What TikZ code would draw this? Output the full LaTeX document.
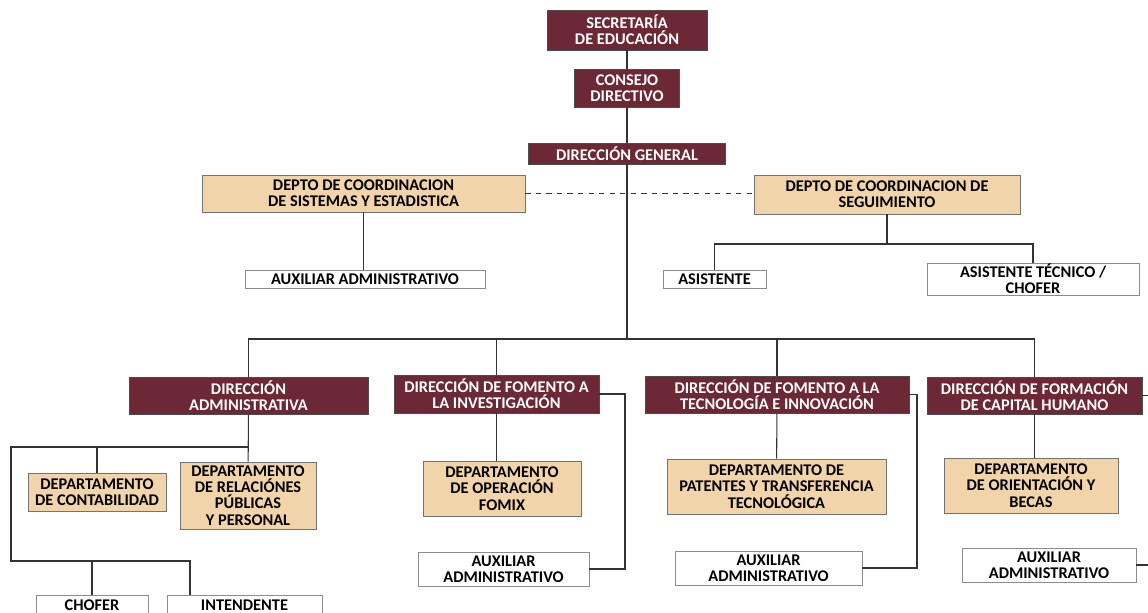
\documentclass[tikz,border=0pt]{standalone}
\usepackage{fontspec}
\setmainfont{Carlito}
\definecolor{guinda}{RGB}{108,40,52}
\definecolor{arena}{RGB}{241,212,170}

\begin{document}
\begin{tikzpicture}[
		x=0.02cm, y=-0.02cm,
		base/.style={align=center, inner sep=0pt, font=\fontsize{9.3}{9.3}\selectfont\bfseries},
		dirbox/.style={base, draw=black!70, fill=guinda, text=white},
		deptobox/.style={base, draw=black!55, fill=arena},
		auxbox/.style={base, draw=black!45, fill=white},
		link/.style={draw=black!80, line width=0.6pt}
		]
		
		\fill[white] (0,0) rectangle (1148,612);
		\useasboundingbox (0,0) rectangle (1148,612);
		
		% --------------------------------------------------
		% Top of the chart
		% --------------------------------------------------
		\node[dirbox, minimum width=3.2cm, minimum height=0.8cm] (sec) at (627,30) {SECRETARÍA\\DE EDUCACIÓN};
		\node[dirbox, minimum width=2.1cm, minimum height=0.76cm] (consejo) at (627,88) {CONSEJO\\DIRECTIVO};
		\node[dirbox, minimum width=3.94cm, minimum height=0.42cm] (dirgen) at (627,153.5) {DIRECCIÓN GENERAL};
		
		\node[deptobox, minimum width=6.46cm, minimum height=0.74cm] (sis) at (363.5,193.5) {DEPTO DE COORDINACION\\DE SISTEMAS Y ESTADISTICA};
		\node[deptobox, minimum width=5.32cm, minimum height=0.78cm] (seg) at (887,194.5) {DEPTO DE COORDINACION DE\\SEGUIMIENTO};
		
		\node[auxbox, minimum width=4.8cm, minimum height=0.36cm] (auxsis) at (365,279) {AUXILIAR ADMINISTRATIVO};
		\node[auxbox, minimum width=2.06cm, minimum height=0.36cm] (asis) at (714.5,279) {ASISTENTE};
		\node[auxbox, minimum width=4.24cm, minimum height=0.64cm] (asistec) at (1033,279) {ASISTENTE TÉCNICO /\\CHOFER};
		
		\coordinate (bus) at (627,339);
		\coordinate (segbus) at (887,244);
		
		% --------------------------------------------------
		% Direcciones
		% --------------------------------------------------
		\node[dirbox, minimum width=4.78cm, minimum height=0.74cm] (diradm) at (248.5,395.5) {DIRECCIÓN\\ADMINISTRATIVA};
		\node[dirbox, minimum width=4.1cm, minimum height=0.76cm] (dirinv) at (496.5,394) {DIRECCIÓN DE FOMENTO A\\LA INVESTIGACIÓN};
		\node[dirbox, minimum width=5.28cm, minimum height=0.74cm] (dirtec) at (777,394.5) {DIRECCIÓN DE FOMENTO A LA\\TECNOLOGÍA E INNOVACIÓN};
		\node[dirbox, minimum width=4.3cm, minimum height=0.74cm] (dirfor) at (1034.5,395.5) {DIRECCIÓN DE FORMACIÓN\\DE CAPITAL HUMANO};
		
		% --------------------------------------------------
		% Departamentos
		% --------------------------------------------------
		\node[deptobox, minimum width=2.76cm, minimum height=0.76cm] (contab) at (97,492) {DEPARTAMENTO\\DE CONTABILIDAD};
		\node[deptobox, minimum width=2.72cm, minimum height=1.34cm] (relac) at (248,495.5) {DEPARTAMENTO\\DE RELACIÓNES\\PÚBLICAS\\Y PERSONAL};
		\node[deptobox, minimum width=3.16cm, minimum height=1.1cm] (fomix) at (502,488.5) {DEPARTAMENTO\\DE OPERACIÓN\\FOMIX};
		\node[deptobox, minimum width=4.38cm, minimum height=1.1cm] (patentes) at (776.5,486.5) {DEPARTAMENTO DE\\PATENTES Y TRANSFERENCIA\\TECNOLÓGICA};
		\node[deptobox, minimum width=3.48cm, minimum height=1.1cm] (orient) at (1031,485.5) {DEPARTAMENTO\\DE ORIENTACIÓN Y\\BECAS};
		
		% --------------------------------------------------
		% Auxiliares
		% --------------------------------------------------
		\node[auxbox, minimum width=3.42cm, minimum height=0.68cm] (auxinv) at (503.5,569) {AUXILIAR\\ADMINISTRATIVO};
		\node[auxbox, minimum width=3.74cm, minimum height=0.68cm] (auxtec) at (768.5,568) {AUXILIAR\\ADMINISTRATIVO};
		\node[auxbox, minimum width=3.48cm, minimum height=0.68cm] (auxfor) at (1049,565) {AUXILIAR\\ADMINISTRATIVO};
		\node[auxbox, minimum width=2.24cm, minimum height=0.4cm] (chofer) at (92,605) {CHOFER};
		\node[auxbox, minimum width=3.1cm, minimum height=0.4cm] (intend) at (244.5,605) {INTENDENTE};
		
		\coordinate (admbus) at (249,447);
		\coordinate (admleft) at (11,447);
		\coordinate (admlow) at (11,561);
		\coordinate (intin) at (190,561);
		\coordinate (invside) at (625,0);
		\coordinate (tecside) at (917,0);
		\coordinate (forside) at (1152,0);
		
		% --------------------------------------------------
		% Connecting lines
		% --------------------------------------------------
		\draw[link] (sec) -- (consejo);
		\draw[link] (consejo) -- (dirgen);
		\draw[link] (dirgen) -- (bus);
		\draw[link, dashed] (sis.east) -- (sis.east -| seg.west);
		\draw[link] (sis) -- (sis |- auxsis.north);
		\draw[link] (seg) -- (segbus);
		\draw[link] (asis) -- (asis |- segbus) -- (asistec |- segbus) -- (asistec);
		
		\draw[link] (diradm) -- (diradm |- bus) -- (dirfor |- bus) -- (dirfor);
		\draw[link] (dirinv) -- (dirinv |- bus);
		\draw[link] (dirtec) -- (dirtec |- bus);
		
		\draw[link] (diradm) -- (relac);
		\draw[link] (admbus) -- (admleft) -- (admlow) -- (intin) -- (intin |- intend.north);
		\draw[link] (contab) -- (contab |- admbus);
		\draw[link] (chofer) -- (chofer |- admlow);
		
		\draw[link] (dirinv) -- (dirinv |- fomix.north);
		\draw[link] (dirinv.east) -- (dirinv.east -| invside) |- (auxinv.east);
		\draw[link] (dirtec) -- (patentes);
		\draw[link] (dirtec.east) -- (dirtec.east -| tecside) |- (auxtec.east);
		\draw[link] (dirfor) -- (dirfor |- orient.north);
		\draw[link] (dirfor.east) -- (dirfor.east -| forside) |- (auxfor.east);
		
	\end{tikzpicture}
\end{document}
